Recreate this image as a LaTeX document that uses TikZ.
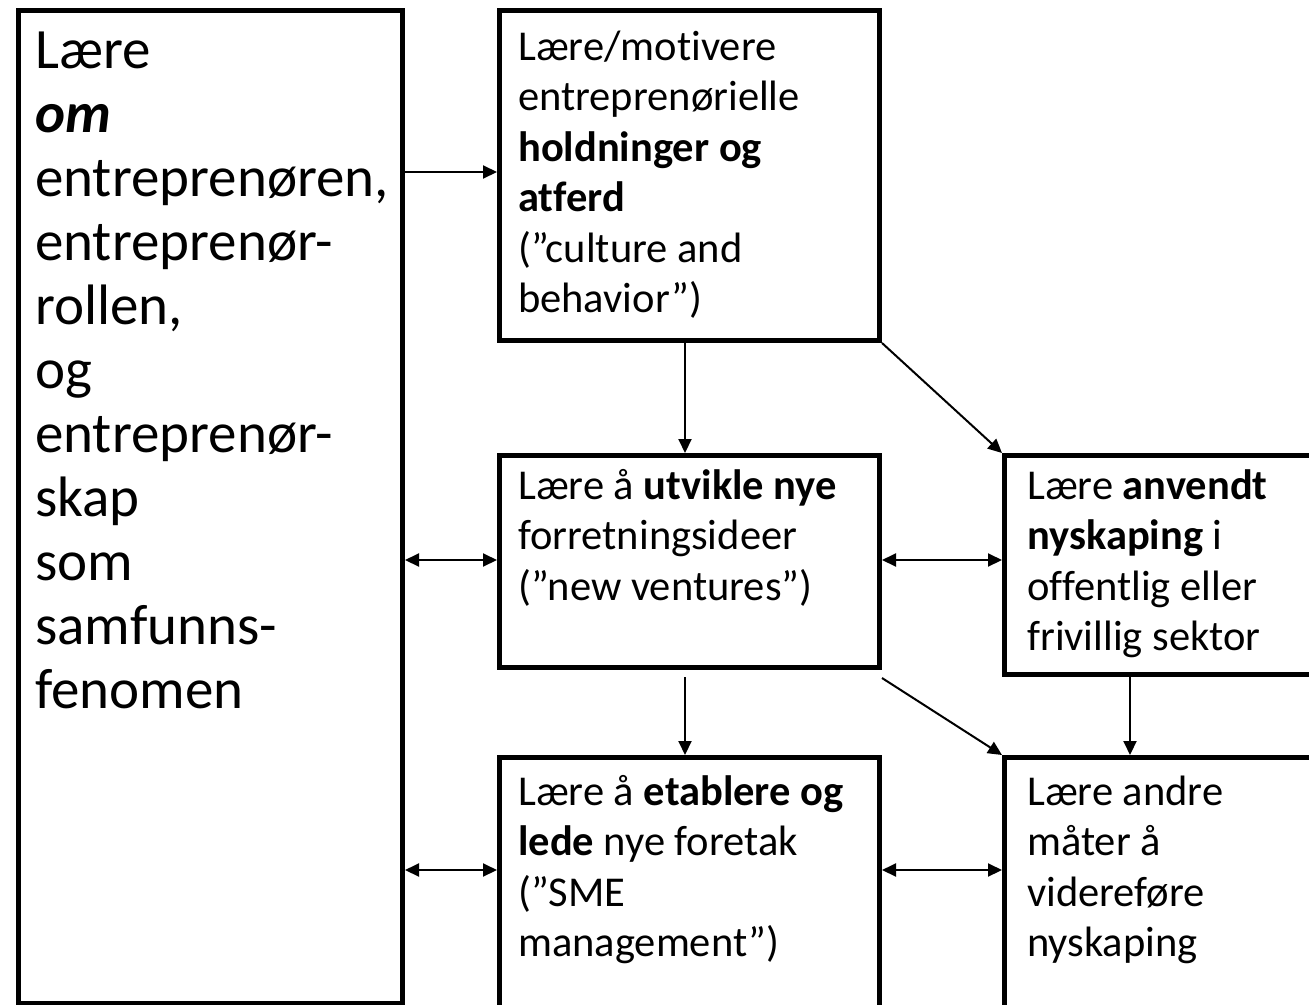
\documentclass[tikz,border=0pt]{standalone}
\usepackage{fontspec}
\setmainfont{Carlito}[Ligatures=NoCommon]
\usetikzlibrary{arrows.meta}
\begin{document}
\begin{tikzpicture}[x=1pt,y=-1pt,
  box/.style={draw=black,line width=5pt,rectangle,inner sep=0pt,anchor=north west},
  bigtxt/.style={anchor=north west,inner sep=0pt,align=left,font=\fontsize{57}{64}\selectfont},
  smalltxt/.style={anchor=north west,inner sep=0pt,align=left,font=\fontsize{42.5}{50.5}\selectfont},
  arr/.style={line width=2pt,-{Triangle[length=14pt,width=13pt]}},
  darr/.style={line width=2pt,{Triangle[length=14pt,width=13pt]}-{Triangle[length=14pt,width=13pt]}}]
\useasboundingbox (0,0) rectangle (1309,1004);
\clip (0,0) rectangle (1309,1004);
% boxes
\node[box,minimum width=384pt,minimum height=993pt] (L) at (16,7.5) {};
\node[box,minimum width=380pt,minimum height=330.5pt] (A) at (497,7.5) {};
\node[box,minimum width=380pt,minimum height=212pt] (B) at (497,453) {};
\node[box,minimum width=320pt,minimum height=219pt] (C) at (1002,453) {};
\node[box,minimum width=380pt,minimum height=250pt] (D) at (497,755) {};
\node[box,minimum width=320pt,minimum height=250pt] (E) at (1002,755) {};
% texts
\node[bigtxt] (Lt) at (35,18) {\rule{0pt}{50pt}Lære\\\textbf{\textit{om}}\\entreprenøren,\\entreprenør-\\rollen,\\og\\entreprenør-\\skap\\som\\samfunns-\\fenomen};
\node[smalltxt] (At) at (518,22) {\rule{0pt}{38pt}Lære/motivere\\entreprenørielle\\\textbf{holdninger og}\\\textbf{atferd}\\(”culture and\\behavior”)};
\node[smalltxt] (Bt) at (518,461) {\rule{0pt}{38pt}Lære å \textbf{utvikle nye}\\forretningsideer\\(”new ventures”)};
\node[smalltxt] (Ct) at (1027,461) {\rule{0pt}{38pt}Lære \textbf{anvendt}\\\textbf{nyskaping} i\\offentlig eller\\frivillig sektor};
\node[smalltxt] (Dt) at (518,767) {\rule{0pt}{38pt}Lære å \textbf{etablere og}\\\textbf{lede} nye foretak\\(”SME\\management”)};
\node[smalltxt] (Et) at (1027,767) {\rule{0pt}{38pt}Lære andre\\måter å\\videreføre\\nyskaping};
% connectors
\draw[arr] (L.east |- 0,172) -- (A.west |- 0,172);
\draw[darr] (L.east |- 0,560) -- (B.west |- 0,560);
\draw[darr] (L.east |- 0,870) -- (D.west |- 0,870);
\draw[darr] (B.east |- 0,560) -- (C.west |- 0,560);
\draw[darr] (D.east |- 0,870) -- (E.west |- 0,870);
\draw[arr] (A.south -| 685,0) -- (B.north -| 685,0);
\draw[arr] ([yshift=-7pt]B.south -| 685,0) -- (D.north -| 685,0);
\draw[arr] (C.south -| 1130,0) -- (E.north -| 1130,0);
\draw[arr] (A.south east) -- (C.north west);
\draw[arr] ([yshift=-8pt]B.south east) -- (E.north west);
\end{tikzpicture}
\end{document}
